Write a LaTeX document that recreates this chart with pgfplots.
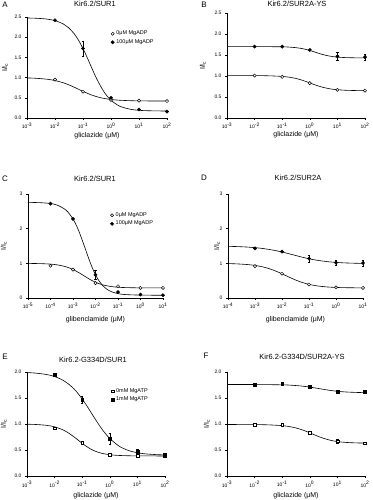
\documentclass[border=0pt]{standalone}
\usepackage{fontspec}
\setmainfont{Liberation Sans}
\usepackage{pgfplots}
\pgfplotsset{compat=1.18}
\pgfplotsset{
 pnl/.style={
  scale only axis, axis lines=left, axis line style={-, line width=0.5pt},
  tick align=outside, major tick length=2pt, minor tick length=1.2pt,
  tick style={black, line width=0.4pt},
  ticklabel style={font=\fontsize{5}{6}\selectfont},
  yticklabel style={/pgf/number format/assume math mode=true},
  label style={font=\fontsize{7}{8}\selectfont},
  ylabel={I/I\textsubscript{c}},
  clip=false,
  legend style={draw=none, fill=none, font=\fontsize{5.5}{6}\selectfont, inner sep=0pt, outer sep=0pt, row sep=-0.8pt, anchor=north west, cells={anchor=west}},
  legend cell align=left,
  anchor=south west,
 },
 pdec/.style={yticklabel style={/pgf/number format/fixed, /pgf/number format/fixed zerofill, /pgf/number format/precision=1}},
 pminA/.style={minor xtick={2e-3,3e-3,4e-3,5e-3,6e-3,7e-3,8e-3,9e-3,2e-2,3e-2,4e-2,5e-2,6e-2,7e-2,8e-2,9e-2,0.2,0.3,0.4,0.5,0.6,0.7,0.8,0.9,2,3,4,5,6,7,8,9,20,30,40,50,60,70,80,90},
   xtick={1e-3,1e-2,1e-1,1,10,100},
   xticklabels={10\textsuperscript{-3},10\textsuperscript{-2},10\textsuperscript{-1},10\textsuperscript{0},10\textsuperscript{1},10\textsuperscript{2}},
   xmin=1e-3, xmax=100},
 pminC/.style={minor xtick={2e-5,3e-5,4e-5,5e-5,6e-5,7e-5,8e-5,9e-5,2e-4,3e-4,4e-4,5e-4,6e-4,7e-4,8e-4,9e-4,2e-3,3e-3,4e-3,5e-3,6e-3,7e-3,8e-3,9e-3,2e-2,3e-2,4e-2,5e-2,6e-2,7e-2,8e-2,9e-2,0.2,0.3,0.4,0.5,0.6,0.7,0.8,0.9,2,3,4,5,6,7,8,9},
   xtick={1e-5,1e-4,1e-3,1e-2,1e-1,1,10},
   xticklabels={10\textsuperscript{-5},10\textsuperscript{-4},10\textsuperscript{-3},10\textsuperscript{-2},10\textsuperscript{-1},10\textsuperscript{0},10\textsuperscript{1}},
   xmin=1e-5, xmax=10},
 pminD/.style={minor xtick={2e-4,3e-4,4e-4,5e-4,6e-4,7e-4,8e-4,9e-4,2e-3,3e-3,4e-3,5e-3,6e-3,7e-3,8e-3,9e-3,2e-2,3e-2,4e-2,5e-2,6e-2,7e-2,8e-2,9e-2,0.2,0.3,0.4,0.5,0.6,0.7,0.8,0.9,2,3,4,5,6,7,8,9},
   xtick={1e-4,1e-3,1e-2,1e-1,1,10},
   xticklabels={10\textsuperscript{-4},10\textsuperscript{-3},10\textsuperscript{-2},10\textsuperscript{-1},10\textsuperscript{0},10\textsuperscript{1}},
   xmin=1e-4, xmax=10},
}
\tikzset{
 fitline/.style={black, line width=0.6pt, smooth},
 openc/.style={mark=*, mark size=1.6pt, mark options={fill=white, draw=black, line width=0.5pt}},
 fillc/.style={mark=*, mark size=1.7pt, mark options={fill=black, draw=black}},
 opens/.style={mark=square*, mark size=1.4pt, mark options={fill=white, draw=black, line width=0.5pt}},
 fills/.style={mark=square*, mark size=1.5pt, mark options={fill=black, draw=black}},
}
\begin{document}
\begin{tikzpicture}
\fill[white] (0,0) rectangle (373bp,500bp);
\path[use as bounding box] (0,0) rectangle (373bp,500bp);

% titles and panel letters
\node[font=\fontsize{8}{9}\selectfont] at (5bp,495bp) {A};
\node[font=\fontsize{7.5}{8}\selectfont] at (95bp,496bp) {Kir6.2/SUR1};
\node[font=\fontsize{8}{9}\selectfont] at (204bp,495bp) {B};
\node[font=\fontsize{7.5}{8}\selectfont] at (297bp,496bp) {Kir6.2/SUR2A-YS};
\node[font=\fontsize{8}{9}\selectfont] at (5bp,321bp) {C};
\node[font=\fontsize{7.5}{8}\selectfont] at (95bp,321bp) {Kir6.2/SUR1};
\node[font=\fontsize{8}{9}\selectfont] at (204bp,322bp) {D};
\node[font=\fontsize{7.5}{8}\selectfont] at (298bp,322bp) {Kir6.2/SUR2A};
\node[font=\fontsize{8}{9}\selectfont] at (5bp,143bp) {E};
\node[font=\fontsize{7.5}{8}\selectfont] at (93bp,140bp) {Kir6.2-G334D/SUR1};
\node[font=\fontsize{8}{9}\selectfont] at (206bp,144bp) {F};
\node[font=\fontsize{7.5}{8}\selectfont] at (302bp,143bp) {Kir6.2-G334D/SUR2A-YS};

% ---------- A ----------
\begin{axis}[xmode=log, log basis x=10, pnl, pminA, pdec, at={(27bp,382bp)}, width=140bp, height=101bp,
  ymin=0, ymax=2.5, ytick={0,0.5,1,1.5,2,2.5},
  xlabel={gliclazide (μM)},
  xlabel style={at={(axis description cs:0.5,-0.178)}, anchor=center},
  ylabel style={at={(axis description cs:-0.157,0.5)}, anchor=center},
  legend style={at={(axis description cs:0.60,0.88)}}]
\addplot[fitline, no marks, forget plot] coordinates {(1e-3,0.992)(2e-3,0.984)(5e-3,0.961)(1e-2,0.927)(2e-2,0.871)(3e-2,0.826)(5e-2,0.758)(7e-2,0.710)(0.1,0.659)(0.2,0.570)(0.3,0.530)(0.5,0.491)(1,0.458)(2,0.440)(5,0.428)(10,0.424)(30,0.421)(100,0.420)};
\addplot[fitline, no marks, forget plot] coordinates {(1e-3,2.475)(2e-3,2.470)(5e-3,2.449)(1e-2,2.410)(2e-2,2.326)(3e-2,2.240)(5e-2,2.073)(7e-2,1.919)(0.1,1.719)(0.15,1.456)(0.2,1.257)(0.3,0.988)(0.5,0.702)(0.7,0.557)(1,0.440)(2,0.295)(5,0.215)(10,0.190)(20,0.180)(100,0.172)};
\addplot[only marks, openc] coordinates {(1e-2,0.95)(1e-1,0.65)(1,0.45)(10,0.43)(100,0.42)};
\addlegendentry{0μM MgADP}
\addplot[only marks, fillc, error bars/y dir=both, error bars/y explicit, error bars/error mark options={rotate=90, mark size=1.2pt, black}] coordinates {(1e-2,2.42)(1e-1,1.72) +- (0,0.18) (1,0.50)(10,0.21)(100,0.16)};
\addlegendentry{100μM MgADP}
\end{axis}

% ---------- B ----------
\begin{axis}[xmode=log, log basis x=10, pnl, pminA, pdec, at={(227bp,382bp)}, width=138bp, height=105bp,
  ymin=0, ymax=2.5, ytick={0,0.5,1,1.5,2,2.5},
  xlabel={gliclazide (μM)},
  xlabel style={at={(axis description cs:0.5,-0.162)}, anchor=center},
  ylabel style={at={(axis description cs:-0.174,0.5)}, anchor=center}]
\addplot[fitline, no marks] coordinates {(1e-3,1.010)(1e-2,1.009)(3e-2,1.005)(0.1,0.990)(0.2,0.967)(0.3,0.945)(0.5,0.905)(0.7,0.873)(1,0.835)(1.5,0.792)(2,0.764)(3,0.730)(5,0.698)(7,0.683)(10,0.673)(20,0.660)(50,0.653)(100,0.652)};
\addplot[fitline, no marks] coordinates {(1e-3,1.700)(1e-2,1.700)(0.1,1.695)(0.2,1.686)(0.3,1.676)(0.5,1.656)(0.7,1.635)(1,1.608)(1.5,1.571)(2,1.544)(3,1.509)(5,1.476)(7,1.460)(10,1.449)(20,1.438)(50,1.432)(100,1.431)};
\addplot[only marks, openc] coordinates {(1e-2,1.01)(1e-1,0.98)(1,0.83)(10,0.67)(100,0.65)};
\addplot[only marks, fillc, error bars/y dir=both, error bars/y explicit, error bars/error mark options={rotate=90, mark size=1.2pt, black}] coordinates {(1e-2,1.70)(1e-1,1.70)(1,1.62)(10,1.47) +- (0,0.10) (100,1.45) +- (0,0.08)};
\end{axis}

% ---------- C ----------
\begin{axis}[xmode=log, log basis x=10, pnl, pminC, at={(28bp,202bp)}, width=135bp, height=104bp,
  ymin=0, ymax=3, ytick={0,1,2,3},
  xlabel={glibenclamide (μM)},
  xlabel style={at={(axis description cs:0.5,-0.21)}, anchor=center},
  ylabel style={at={(axis description cs:-0.178,0.5)}, anchor=center},
  legend style={at={(axis description cs:0.61,0.84)}}]
\addplot[fitline, no marks, forget plot] coordinates {(1e-5,0.998)(2e-5,0.995)(5e-5,0.988)(1e-4,0.977)(2e-4,0.956)(5e-4,0.899)(1e-3,0.823)(2e-3,0.716)(3e-3,0.645)(5e-3,0.556)(7e-3,0.503)(1e-2,0.454)(2e-2,0.382)(5e-2,0.330)(0.1,0.311)(0.2,0.301)(1,0.292)(10,0.290)};
\addplot[fitline, no marks, forget plot] coordinates {(1e-5,2.758)(2e-5,2.755)(5e-5,2.744)(1e-4,2.725)(2e-4,2.679)(5e-4,2.530)(1e-3,2.280)(1.5e-3,2.056)(2e-3,1.861)(3e-3,1.549)(5e-3,1.139)(7e-3,0.892)(1e-2,0.670)(1.5e-2,0.475)(2e-2,0.372)(3e-2,0.267)(5e-2,0.184)(0.1,0.126)(0.2,0.100)(1,0.083)(10,0.080)};
\addplot[only marks, openc] coordinates {(1e-4,0.93)(1e-3,0.82)(1e-2,0.43)(1e-1,0.34)(1,0.29)(10,0.29)};
\addlegendentry{0μM MgADP}
\addplot[only marks, fillc, error bars/y dir=both, error bars/y explicit, error bars/error mark options={rotate=90, mark size=1.2pt, black}] coordinates {(1e-4,2.72)(1e-3,2.28)(1e-2,0.67) +- (0,0.12) (1e-1,0.17)(1,0.10)(10,0.08)};
\addlegendentry{100μM MgADP}
\end{axis}

% ---------- D ----------
\begin{axis}[xmode=log, log basis x=10, pnl, pminD, at={(228bp,202bp)}, width=135bp, height=104bp,
  ymin=0, ymax=3, ytick={0,1,2,3},
  xlabel={glibenclamide (μM)},
  xlabel style={at={(axis description cs:0.5,-0.21)}, anchor=center},
  ylabel style={at={(axis description cs:-0.08,0.5)}, anchor=center}]
\addplot[fitline, no marks] coordinates {(1e-4,0.992)(2e-4,0.985)(5e-4,0.966)(1e-3,0.940)(2e-3,0.895)(3e-3,0.858)(5e-3,0.798)(7e-3,0.752)(1e-2,0.698)(1.5e-2,0.634)(2e-2,0.588)(3e-2,0.528)(5e-2,0.461)(7e-2,0.425)(0.1,0.393)(0.2,0.349)(0.5,0.317)(1,0.305)(2,0.298)(5,0.294)(10,0.292)};
\addplot[fitline, no marks] coordinates {(1e-4,1.490)(2e-4,1.484)(5e-4,1.470)(1e-3,1.452)(2e-3,1.427)(5e-3,1.377)(1e-2,1.327)(2e-2,1.268)(3e-2,1.232)(5e-2,1.187)(7e-2,1.159)(0.1,1.132)(0.2,1.088)(0.5,1.047)(1,1.027)(2,1.013)(5,1.003)(10,0.998)};
\addplot[only marks, openc] coordinates {(1e-3,0.92)(1e-2,0.70)(1e-1,0.39)(1,0.31)(10,0.29)};
\addplot[only marks, fillc, error bars/y dir=both, error bars/y explicit, error bars/error mark options={rotate=90, mark size=1.2pt, black}] coordinates {(1e-3,1.43)(1e-2,1.34)(1e-1,1.14) +- (0,0.10) (1,1.02) +- (0,0.08) (10,1.01) +- (0,0.08)};
\end{axis}

% ---------- E ----------
\begin{axis}[xmode=log, log basis x=10, pnl, pminA, pdec, at={(27bp,24bp)}, width=138bp, height=104bp,
  ymin=0, ymax=2, ytick={0,0.5,1,1.5,2},
  xlabel={gliclazide (μM)},
  xlabel style={at={(axis description cs:0.5,-0.192)}, anchor=center},
  ylabel style={at={(axis description cs:-0.167,0.5)}, anchor=center},
  legend style={at={(axis description cs:0.61,0.86)}}]
\addplot[fitline, no marks, forget plot] coordinates {(1e-3,0.996)(2e-3,0.991)(5e-3,0.975)(1e-2,0.946)(2e-2,0.888)(3e-2,0.837)(5e-2,0.754)(7e-2,0.693)(0.1,0.628)(0.15,0.561)(0.2,0.521)(0.3,0.476)(0.5,0.438)(1,0.409)(2,0.396)(5,0.389)(10,0.387)(100,0.385)};
\addplot[fitline, no marks, forget plot] coordinates {(1e-3,1.989)(2e-3,1.979)(5e-3,1.953)(1e-2,1.913)(2e-2,1.843)(3e-2,1.781)(5e-2,1.677)(7e-2,1.589)(0.1,1.481)(0.15,1.343)(0.2,1.238)(0.3,1.090)(0.5,0.914)(0.7,0.813)(1,0.720)(2,0.587)(3,0.534)(5,0.486)(10,0.447)(20,0.425)(50,0.411)(100,0.406)};
\addplot[only marks, opens] coordinates {(1e-2,0.92)(1e-1,0.64)(1,0.41)(10,0.39)(100,0.39)};
\addlegendentry{0mM MgATP}
\addplot[only marks, fills, error bars/y dir=both, error bars/y explicit, error bars/error mark options={rotate=90, mark size=1.2pt, black}] coordinates {(1e-2,1.94)(1e-1,1.47) +- (0,0.07) (1,0.72) +- (0,0.11) (10,0.47) +- (0,0.05) (100,0.41) +- (0,0.03)};
\addlegendentry{1mM MgATP}
\end{axis}

% ---------- F ----------
\begin{axis}[xmode=log, log basis x=10, pnl, pminA, pdec, at={(227bp,24bp)}, width=138bp, height=104bp,
  ymin=0, ymax=2, ytick={0,0.5,1,1.5,2},
  xlabel={gliclazide (μM)},
  xlabel style={at={(axis description cs:0.5,-0.192)}, anchor=center},
  ylabel style={at={(axis description cs:-0.145,0.5)}, anchor=center}]
\addplot[fitline, no marks] coordinates {(1e-3,0.990)(1e-2,0.988)(3e-2,0.984)(0.1,0.969)(0.2,0.947)(0.3,0.927)(0.5,0.892)(0.7,0.864)(1,0.830)(1.5,0.790)(2,0.763)(3,0.728)(5,0.693)(7,0.676)(10,0.662)(20,0.646)(50,0.636)(100,0.633)};
\addplot[fitline, no marks] coordinates {(1e-3,1.760)(1e-2,1.759)(0.1,1.753)(0.2,1.747)(0.5,1.730)(1,1.710)(2,1.684)(3,1.668)(5,1.649)(10,1.629)(20,1.616)(50,1.607)(100,1.603)};
\addplot[only marks, opens, error bars/y dir=both, error bars/y explicit, error bars/error mark options={rotate=90, mark size=1.2pt, black}] coordinates {(1e-2,0.99)(1e-1,0.98)(1,0.83)(10,0.67) +- (0,0.03) (100,0.63)};
\addplot[only marks, fills] coordinates {(1e-2,1.76)(1e-1,1.77)(1,1.71)(10,1.63)(100,1.62)};
\end{axis}
\end{tikzpicture}
\end{document}
